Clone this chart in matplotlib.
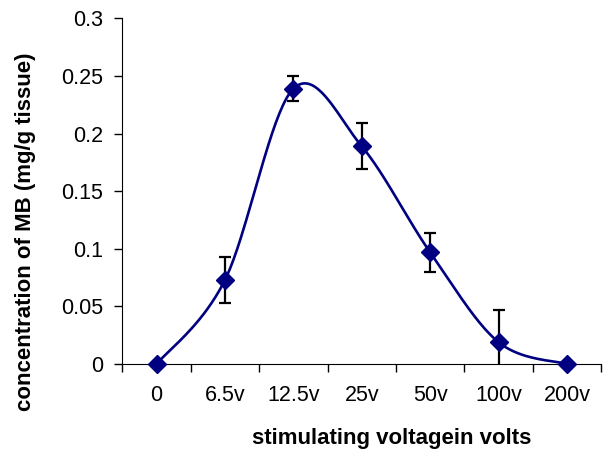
import numpy as np
import matplotlib
matplotlib.use("Agg")
import matplotlib.pyplot as plt

plt.rcParams["font.family"] = ["Liberation Sans", "DejaVu Sans"]

voltages = ["0", "6.5v", "12.5v", "25v", "50v", "100v", "200v"]
mb_conc = [0.0, 0.073, 0.239, 0.189, 0.097, 0.019, 0.0]
mb_err = [0.0, 0.020, 0.011, 0.020, 0.017, 0.028, 0.0]

NAVY = "#000080"


def catmull_rom(xs, ys, n=40):
    # Excel-style "smoothed line": cardinal spline through every point
    p = np.column_stack([xs, ys]).astype(float)
    p = np.vstack([p[0], p, p[-1]])
    out = []
    t = np.linspace(0, 1, n)[:, None]
    for i in range(1, len(p) - 2):
        p0, p1, p2, p3 = p[i - 1], p[i], p[i + 1], p[i + 2]
        c1 = p1 + (p2 - p0) / 6
        c2 = p2 - (p3 - p1) / 6
        seg = ((1 - t) ** 3 * p1 + 3 * (1 - t) ** 2 * t * c1
               + 3 * (1 - t) * t ** 2 * c2 + t ** 3 * p2)
        out.append(seg if i == 1 else seg[1:])
    out = np.vstack(out)
    return out[:, 0], out[:, 1]


x = np.arange(len(voltages))
fig = plt.figure(figsize=(6.09, 4.5), dpi=100)
ax = fig.add_axes([0.201, 0.191, 0.786, 0.768])

sx, sy = catmull_rom(x, mb_conc)
ax.plot(sx, sy, color=NAVY, lw=1.9, zorder=3)
for xi, yi, ei in zip(x, mb_conc, mb_err):
    if ei > 0:
        ax.errorbar(xi, yi, yerr=ei, fmt="none", ecolor="black", elinewidth=1.6,
                    capsize=4, capthick=1.6, zorder=4)
ax.plot(x, mb_conc, ls="none", marker="D", ms=9, color=NAVY, clip_on=False, zorder=5)

ax.set_xlim(-0.5, len(voltages) - 0.5)
ax.set_ylim(0, 0.3)
ax.set_yticks(np.arange(0, 0.31, 0.05))
ax.set_yticklabels(["0", "0.05", "0.1", "0.15", "0.2", "0.25", "0.3"])
ax.set_xticks(np.arange(-0.5, len(voltages), 1.0))
ax.set_xticklabels([])
ax.set_xticks(x, minor=True)
ax.set_xticklabels(voltages, minor=True)
ax.tick_params(axis="x", which="major", direction="out", length=6, width=1)
ax.tick_params(axis="x", which="minor", length=0, pad=15, labelsize=15.5)
ax.tick_params(axis="y", direction="out", length=6, width=1, labelsize=15.5, pad=8)

for sp in ("top", "right"):
    ax.spines[sp].set_visible(False)

ax.set_xlabel("stimulating voltagein volts", fontsize=16, fontweight="bold")
ax.xaxis.set_label_coords(0.563, -0.216)
ax.xaxis.label.set_va("center")
ax.set_ylabel("concentration of MB (mg/g tissue)", fontsize=16, fontweight="bold")
ax.yaxis.set_label_coords(-0.2016, 0.382)
ax.yaxis.label.set_va("center")

fig.savefig("out.png", dpi=100)
